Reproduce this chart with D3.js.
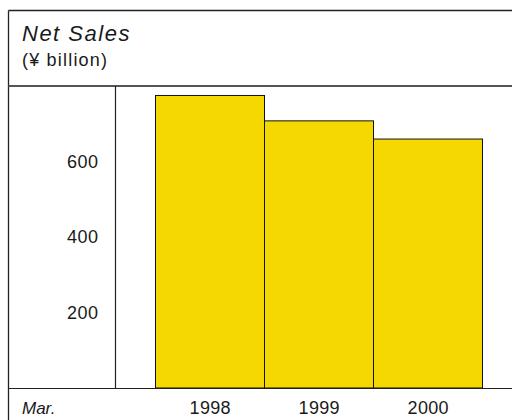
<!DOCTYPE html>
<html>
<head>
<meta charset="utf-8">
<script src="https://cdn.jsdelivr.net/npm/d3@7/dist/d3.min.js"></script>
<style>
  html, body { margin: 0; padding: 0; background: #fff; }
  svg { display: block; }
  text { font-family: "Liberation Sans", Arial, sans-serif; fill: #1a1a1a; }
</style>
</head>
<body>
<svg id="chart" width="512" height="420"></svg>
<script>
// Net sales, ¥ billion, fiscal years ending March
const years = ["1998", "1999", "2000"];
const netSales = [772, 705, 657];
const yTicks = [200, 400, 600];

const svg = d3.select("#chart");
const W = 512, H = 420;

// frame geometry
const frameLeft = 8.5, frameTop = 10.5;
const headerBottom = 86;
const baseline = 388;
const axisX = 115.5;

// scales
const x = d3.scaleBand()
  .domain(years)
  .range([155.5, 482.5])
  .paddingInner(0)
  .paddingOuter(0);

const y = d3.scaleLinear()
  .domain([0, 797])
  .range([baseline, headerBottom]);

// outer frame lines
svg.append("line")
  .attr("x1", frameLeft).attr("x2", W)
  .attr("y1", frameTop).attr("y2", frameTop)
  .attr("stroke", "#222").attr("stroke-width", 1.6);
svg.append("line")
  .attr("x1", frameLeft).attr("x2", frameLeft)
  .attr("y1", frameTop).attr("y2", H)
  .attr("stroke", "#222").attr("stroke-width", 1.3);
svg.append("line")
  .attr("x1", frameLeft).attr("x2", W)
  .attr("y1", headerBottom).attr("y2", headerBottom)
  .attr("stroke", "#555").attr("stroke-width", 2);

// title block
svg.append("text")
  .attr("x", 22).attr("y", 41)
  .style("font-size", "22px").style("font-style", "italic")
  .style("letter-spacing", "1.5px")
  .text("Net Sales");
svg.append("text")
  .attr("x", 22).attr("y", 65.5)
  .style("font-size", "18px")
  .style("letter-spacing", "1.2px")
  .text("(¥ billion)");

// bars
svg.append("g").selectAll("rect")
  .data(netSales)
  .join("rect")
  .attr("x", (d, i) => x(years[i]))
  .attr("width", x.bandwidth())
  .attr("y", d => y(d))
  .attr("height", d => baseline - y(d))
  .attr("fill", "#f5d800")
  .attr("stroke", "#111")
  .attr("stroke-width", 1);

// vertical axis line
svg.append("line")
  .attr("x1", axisX).attr("x2", axisX)
  .attr("y1", headerBottom).attr("y2", baseline)
  .attr("stroke", "#222").attr("stroke-width", 1.2);

// baseline
svg.append("line")
  .attr("x1", frameLeft).attr("x2", W)
  .attr("y1", baseline + 0.5).attr("y2", baseline + 0.5)
  .attr("stroke", "#222").attr("stroke-width", 1.2);

// y tick labels (no tick marks)
const yAxis = d3.axisLeft(y).tickValues(yTicks).tickSize(0).tickPadding(0);
const gy = svg.append("g")
  .attr("transform", `translate(98.5,0)`)
  .call(yAxis);
gy.select(".domain").remove();
gy.selectAll("text")
  .style("font-size", "18px")
  .style("letter-spacing", "0.5px")
  .style("font-family", "'Liberation Sans', Arial, sans-serif")
  .attr("fill", "#1a1a1a")
  .attr("dy", "0.36em");

// x tick labels
const xAxis = d3.axisBottom(x).tickSize(0).tickPadding(0);
const gx = svg.append("g")
  .attr("transform", `translate(0.2,${baseline})`)
  .call(xAxis);
gx.select(".domain").remove();
gx.selectAll("text")
  .style("font-size", "18px")
  .style("letter-spacing", "0.3px")
  .style("font-family", "'Liberation Sans', Arial, sans-serif")
  .attr("fill", "#1a1a1a")
  .attr("y", 20)
  .attr("dy", "0.36em");

svg.append("text")
  .attr("x", 22).attr("y", 408)
  .attr("dy", "0.36em")
  .style("font-size", "17px").style("font-style", "italic")
  .text("Mar.");
</script>
</body>
</html>
